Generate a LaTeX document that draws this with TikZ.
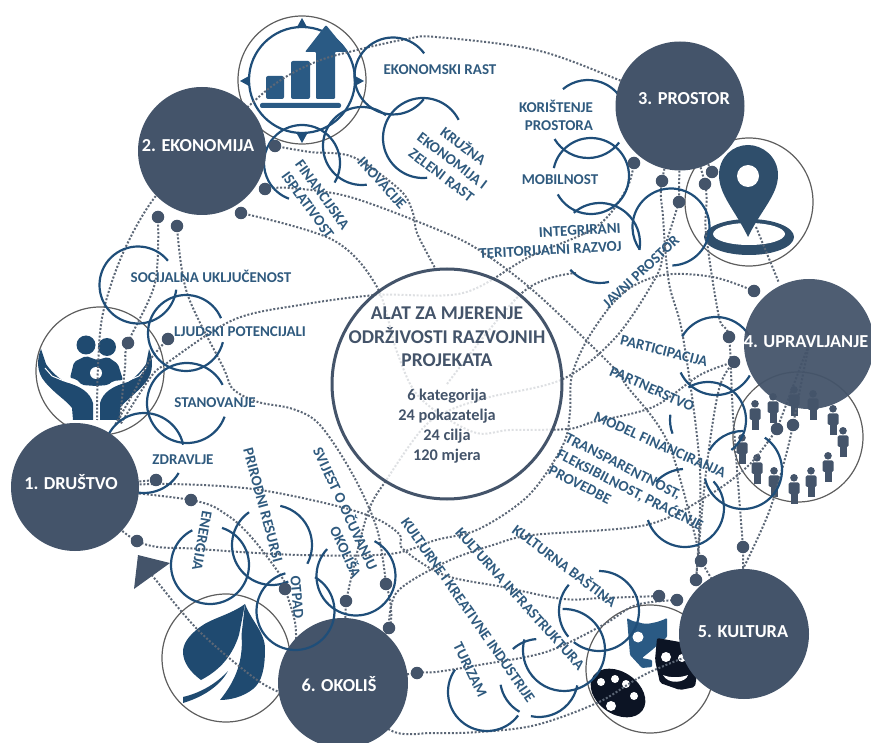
\documentclass[tikz,border=0pt]{standalone}
\usepackage{fontspec}
\setmainfont{Carlito}
\pgfdeclarelayer{icons}\pgfdeclarelayer{lines}\pgfdeclarelayer{arcs}\pgfdeclarelayer{top}
\pgfsetlayers{icons,lines,arcs,main,top}
\definecolor{hubc}{HTML}{44546A}
\definecolor{arcc}{HTML}{1F4E79}
\definecolor{labc}{HTML}{2F5A7E}
\definecolor{dotl}{HTML}{5C6776}
\definecolor{iconb}{HTML}{2A5A84}
\definecolor{icond}{HTML}{1F4A70}
\definecolor{pinc}{HTML}{2F4E6B}
\definecolor{ringc}{HTML}{5E5E5E}
\definecolor{blk}{HTML}{0C1424}
\tikzset{
 hub/.style={circle,fill=hubc,draw=none,inner sep=0pt,minimum size=#1},
 hubtext/.style={text=white,font=\fontsize{18.3}{20}\selectfont\bfseries,inner sep=0pt},
 dotn/.style={circle,fill=hubc,inner sep=0pt,minimum size=12.5pt},
 lab/.style={text=labc,font=\fontsize{15}{18}\selectfont\bfseries,inner sep=0pt},
 arcl/.style={draw=arcc,line width=2.2pt},
 ringl/.style={draw=ringc,line width=1.2pt},
 dotline/.style={draw=dotl,line width=2pt,dash pattern=on 2pt off 1.8pt},
}
\newcommand{\bluearc}[5]{\draw[arcl] (#1,#2) ++(#4:#3) arc[start angle=#4,end angle=#5,radius=#3];}
\newcommand{\conn}[1]{\draw[dotline] plot[smooth,tension=.55] coordinates {#1};}
\newcommand{\person}[2]{\fill[hubc] (#1,#2+3.8) circle (3.8);
 \fill[hubc,rounded corners=1.5pt] (#1-5.5,#2+8.5) rectangle (#1+5.5,#2+20);
 \fill[hubc] (#1-3.5,#2+15) rectangle (#1+3.5,#2+30);}
\begin{document}
\begin{tikzpicture}[x=1pt,y=1pt,yscale=-1]
\useasboundingbox (0,0) rectangle (871,743);
\clip (0,0) rectangle (871,743);

% ---------- icons ----------
\begin{pgfonlayer}{icons}
 \draw[ringl] (302,80) circle (64);
 \draw[arcc,line width=2.2pt] (302,80) circle (53);
 \fill[arcc] (302,18) -- (297,27) -- (307,27) -- cycle;
 \fill[arcc] (302,143) -- (297,134) -- (307,134) -- cycle;
 \fill[arcc] (240,81) -- (249,76) -- (249,86) -- cycle;
 \fill[arcc] (364,81) -- (355,76) -- (355,86) -- cycle;
 \fill[iconb,rounded corners=2pt] (266,76) rectangle (284,99);
 \fill[iconb,rounded corners=2pt] (291,61) rectangle (310,99);
 \fill[iconb,rounded corners=1pt] (316,99) -- (316,52) -- (305,52) -- (326,25) -- (348,52) -- (335,52) -- (335,99) -- cycle;
 \fill[iconb,rounded corners=2pt] (260,103) rectangle (341,108);

 \draw[ringl] (749,202) circle (64);
 \fill[pinc] (749,237) ellipse [x radius=45,y radius=18];
 \fill[white] (749,234) ellipse [x radius=36,y radius=11];
 \fill[pinc] (748,237) .. controls (735,210) and (719,195) .. (719,175) .. controls (719,157) and (733,145) .. (748,145) .. controls (763,145) and (778,157) .. (778,175) .. controls (778,195) and (761,210) .. (748,237) -- cycle;
 \fill[white] (748,176) circle (11);

 \draw[ringl] (798,437) circle (65);
 \person{755}{400}\person{773}{393}\person{794}{386}\person{813}{390}\person{833}{405}\person{843}{427}
 \person{828}{452}\person{811}{467}\person{794}{474}\person{774}{467}\person{757}{454}\person{742}{434}

 \draw[ringl] (650,669) circle (64);
 \fill[iconb,rounded corners=1pt] (627,618) .. controls (632,621) and (635,622) .. (638,622) .. controls (643,624) and (648,624) .. (652,623) .. controls (658,622) and (663,620) .. (667,618) -- (667,637) -- (660,643) -- (652,650) -- (642,658) -- (652,660) -- (652,667) -- (642,668) -- (630,655) -- cycle;
 \fill[white] (638,637) circle (5.5);
 \fill[blk,rounded corners=2pt] (657,638) -- (680,642) -- (700,655) -- (695,687) -- (680,690) -- (660,683) -- (655,660) -- cycle;
 \fill[white] (666,657) circle (5);
 \fill[white] (682,658) circle (4);
 \fill[white] (663,675) .. controls (670,678) and (680,678) .. (688,675) .. controls (686,683) and (668,685) .. (663,675) -- cycle;
 \fill[blk,rotate around={35:(618,693)}] (618,693) ellipse [x radius=30,y radius=21];
 \fill[white] (601,682) circle (4); \fill[white] (615,679) circle (4); \fill[white] (626,684) circle (4);
 \fill[white] (634,696) circle (4); \fill[white] (611,706) circle (5);

 \draw[ringl] (226,658) circle (64);
 \fill[icond] (245,604) .. controls (230,615) and (212,618) .. (200,627) .. controls (188,636) and (183,644) .. (183,652) .. controls (183,662) and (190,672) .. (201,680) .. controls (216,672) and (231,660) .. (239,635) -- cycle;
 \fill[icond] (245,604) .. controls (252,622) and (265,632) .. (265,649) .. controls (265,668) and (262,682) .. (253,689) .. controls (243,697) and (230,700) .. (220,700) .. controls (232,685) and (244,665) .. (241.5,635) -- cycle;
 \fill[icond] (183,697) .. controls (200,693) and (216,684) .. (228,671) .. controls (220,686) and (203,697) .. (183,703) -- cycle;

 \draw[ringl] (100,371) circle (64);
 \fill[icond] (86,345) circle (9.5);
 \fill[icond] (107,347) circle (9);
 \fill[icond,rounded corners=2pt] (70,378) -- (74,362) -- (86,356) -- (97,360) -- (108,357) -- (118,364) -- (123,380) -- (113,381) -- (108,385) -- (96,386) -- (82,385) -- (76,379) -- cycle;
 \fill[white] (96,373) circle (6);
 \fill[icond] (41,349) .. controls (37,358) and (36,372) .. (45,382) .. controls (55,394) and (66,400) .. (72,408) -- (73,420) -- (93,420) -- (93,403) .. controls (90,392) and (80,386) .. (65,382) .. controls (58,378) and (50,370) .. (46,364) -- cycle;
 \fill[icond] (149,349) .. controls (153,358) and (154,372) .. (146,382) .. controls (136,394) and (126,400) .. (120,408) -- (120,420) -- (100,420) -- (100,403) .. controls (103,392) and (113,386) .. (128,382) .. controls (135,378) and (142,370) .. (146,364) -- cycle;
 \draw[white,line width=1pt] (45,368) -- (52,376) -- (64,381);
 \draw[white,line width=1pt] (146,368) -- (139,376) -- (127,381);
\end{pgfonlayer}

% ---------- hubs ----------
\node[circle,draw=hubc,line width=3pt,fill=white,fill opacity=.8,draw opacity=1,inner sep=0pt,minimum size=230pt] (main) at (447,384) {};
\node[hub=128pt] (h1) at (75,487) {};
\node[hub=128pt] (h2) at (202,151) {};
\node[hub=129pt] (h3) at (680,106) {};
\node[hub=130pt,fill opacity=.95] (h4) at (809,344) {};
\node[hub=130pt] (h5) at (744,634) {};
\node[hub=130pt] (h6) at (343,683) {};
\node[hubtext] (t1) at (71,482) {1. DRUŠTVO};
\node[hubtext] (t2) at (198,146) {2. EKONOMIJA};
\node[hubtext] (t3) at (684,99) {3. PROSTOR};
\node[hubtext] (t4) at (806,342) {4. UPRAVLJANJE};
\node[hubtext] (t5) at (743,632) {5. KULTURA};
\node[hubtext] (t6) at (339,684) {6. OKOLIŠ};

% ---------- dots ----------
\foreach \n/\x/\y in {d1/275/146,d2/265/189,d3/241/213,d4/158/217,d5/177/226,d6/128/343,d7/168/339,
 d8/634/163,d9/662/181,d10/679/202,d11/705/184,d12/712/172,d13/754/291,d14/729/337,d15/734/362,
 d16/777/429,d17/793/425,d18/701/561,d19/696/580,d20/743/547,d21/659/596,d22/677/600,
 d23/156/480,d24/191/500,d25/137/541,d26/285/589,d27/346/601,d28/386/584,d29/389/628,d30/417/673}
 {\node[dotn] (\n) at (\x,\y) {};}
\fill[hubc] (138,555) -- (170,563) -- (134,589) -- cycle;
\coordinate (tri) at (150,572);
\coordinate (pintip) at (756,227);
\coordinate (arcend) at (576,273);

% ---------- connectors ----------
\begin{pgfonlayer}{lines}
 \conn{(h3) (619,80) (536,50) (436,37) (407,39) (357,50) (313,63) (267,90) (h2)}
 \conn{(d1) (310,152) (353,157) (400,190) (413,213) (417,233) (435,268)}
 \conn{(d2) (290,188) (350,197) (436,229) (479,250) (536,293) (616,370) (626,385) (669,445) (d18)}
 \conn{(d3) (333,240) (377,287) (397,352) (420,398) (473,432) (510,430) (568,429) (593,422) (653,407) (700,375) (d15)}
 \conn{(h2) (155,197) (123,253) (103,313) (98,367) (97,420)}
 \conn{(d4) (155,283) (d6) (125,367) (120,420)}
 \conn{(d5) (187,293) (223,367) (233,389) (258,402) (293,409) (320,425) (353,475) (377,529) (d28)}
 \conn{(d8) (626,190) (596,227) (529,257) (463,293) (377,295) (300,305) (233,320) (167,363) (150,378) (120,425)}
 \conn{(d7) (150,360) (135,390) (115,425)}
 \conn{(h1) (d23)}
 \conn{(h1) (167,484) (253,489) (333,505) (377,519) (400,535) (403,549) (444,575) (503,587) (563,599) (603,598) (d21)}
 \conn{(h1) (d24) (227,515) (253,539) (283,579) (d26)}
 \conn{(d26) (295,622) (296,650)}
 \conn{(h1) (d25) (200,549) (300,555) (390,554) (436,540) (479,529) (529,495) (563,445) (570,412) (572,375) (590,335) (623,293) (663,275) (713,277) (d13)}
 \conn{(d27) (367,515) (387,479) (423,428) (450,410) (490,397) (563,379) (616,337) (656,277) (664,250) (d10)}
 \conn{(h3) (d10)}
 \conn{(d27) (345,625)}
 \conn{(d28) (d29) (h6)}
 \conn{(tri) (155,579) (200,632) (260,682) (300,700)}
 \conn{(h6) (d30) (436,672) (479,665) (546,652) (603,625) (636,605) (d22)}
 \conn{(h6) (390,730) (433,733) (479,732) (536,725) (599,702) (650,672) (h5)}
 \conn{(d29) (397,592) (446,562) (493,545) (533,535) (646,525) (709,495) (749,465) (d16)}
 \conn{(d16) (h4)}
 \conn{(d17) (786,455) (769,512) (743,569)}
 \conn{(d17) (h4)}
 \conn{(h3) (d9) (663,217) (669,283) (683,337) (700,470) (d19)}
 \conn{(h3) (d11) (706,233) (719,317) (d14) (733,415) (d20)}
 \conn{(d20) (h5)}
 \conn{(h3) (d12)}
 \conn{(pintip) (779,283)}
 \conn{(d15) (719,389) (706,472) (d19)}
 \conn{(d18) (h5)}
 \conn{(main) (523,292) (arcend)}
\end{pgfonlayer}

% ---------- arcs ----------
\begin{pgfonlayer}{arcs}
 \bluearc{393}{76}{38.5}{-36}{-323}
 \bluearc{362}{146}{39}{-52}{-277}
 \bluearc{423}{138}{40}{-27}{-276}
 \bluearc{302}{163}{38}{31}{-250}
 \bluearc{138}{285}{38.5}{-39}{-353}
 \bluearc{186}{333}{38}{-23}{-346}
 \bluearc{187}{403}{40}{-27}{-340}
 \bluearc{144}{453}{40}{-12}{-330}
 \bluearc{210}{565}{39}{-117}{-432}
 \bluearc{272}{545}{40}{-125}{-294}
 \bluearc{272}{545}{40}{-78}{28}
 \bluearc{356}{576}{39.5}{-137}{-422}
 \bluearc{487}{692}{39}{-145}{-323}
 \bluearc{564}{650}{41}{-92}{195}
 \bluearc{539}{678}{39}{-132}{-94}
 \bluearc{539}{678}{39}{170}{120}
 \bluearc{539}{678}{39}{102}{11}
 \bluearc{599}{611}{40}{-90}{129}
 \bluearc{599}{611}{40}{221}{140}
 \bluearc{685}{508}{39}{-93}{-138}
 \bluearc{685}{508}{39}{162}{-43}
 \bluearc{743}{470}{39}{-56}{167}
 \bluearc{743}{470}{39}{-150}{-90}
 \bluearc{708}{420}{38}{-121}{52}
 \bluearc{708}{420}{38}{188}{159}
 \bluearc{716}{356}{39}{-150}{-30}
 \bluearc{716}{356}{39}{155}{30}
 \bluearc{671}{227}{38.5}{88}{-216}
 \bluearc{600}{243}{40}{-131}{10}
 \bluearc{600}{243}{40}{138}{77}
 \bluearc{591}{176}{38}{-168}{151}
 \bluearc{588}{119}{39}{-130}{-30}
 \bluearc{588}{119}{39}{149}{37}
\end{pgfonlayer}

\begin{pgfonlayer}{top}
 \bluearc{295.5}{611}{39}{-105}{-420}
 % ---------- main text ----------
 \node[text=hubc,font=\fontsize{19.5}{23.5}\selectfont\bfseries,align=center,inner sep=0pt] (title) at (447,337) {ALAT ZA MJERENJE\\ODRŽIVOSTI RAZVOJNIH\\PROJEKATA};
 \node[text=hubc,font=\fontsize{16.3}{20}\selectfont\bfseries,align=center,inner sep=0pt] (stats) at (447,426) {6 kategorija\\24 pokazatelja\\24 cilja\\120 mjera};
 % ---------- labels ----------
 \node[lab] (l1) at (440,70) {EKONOMSKI RAST};
 \node[lab,rotate=-37,align=center] (l2) at (453,160) {KRUŽNA\\EKONOMIJA I\\ZELENI RAST};
 \node[lab,rotate=-48] (l3) at (382,183) {INOVACIJE};
 \node[lab,rotate=-54,align=center] (l4) at (315,200) {FINANCIJSKA\\ISPLATIVOST};
 \node[lab] (l5) at (211,276) {SOCIJALNA UKLJUČENOST};
 \node[lab] (l6) at (240,332) {LJUDSKI POTENCIJALI};
 \node[lab] (l7) at (215,403) {STANOVANJE};
 \node[lab] (l8) at (183,460) {ZDRAVLJE};
 \node[lab,rotate=-100] (l9) at (202,541) {ENERGIJA};
 \node[lab,rotate=-75] (l10) at (263,505) {PRIRODNI RESURSI};
 \node[lab,rotate=-65,align=right] (l11) at (338,512) {SVIJEST O OČUVANJU\\OKOLIŠA};
 \node[lab,rotate=-85] (l12) at (297,597) {OTPAD};
 \node[lab,rotate=-55] (l13) at (468,610) {KULTURNE I KREATIVNE INDUSTRIJE};
 \node[lab,rotate=-48] (l14) at (520,599) {KULTURNA INFRASTRUKTURA};
 \node[lab,rotate=-37] (l15) at (565,565) {KULTURNA BAŠTINA};
 \node[lab,rotate=-64] (l16) at (470,670) {TURIZAM};
 \node[lab,rotate=-14] (l17) at (664,351) {PARTICIPACIJA};
 \node[lab,rotate=-24] (l18) at (652,389) {PARTNERSTVO};
 \node[lab,rotate=-24] (l19) at (660,445) {MODEL FINANCIRANJA};
 \node[lab,rotate=-27,align=left] (l20) at (630,490) {TRANSPARENTNOST,\\FLEKSIBILNOST, PRAĆENJE\\PROVEDBE};
 \node[lab,rotate=3,align=right] (l21) at (550,241) {INTEGRIRANI\\TERITORIJALNI RAZVOJ};
 \node[lab,rotate=43] (l22) at (641,272) {JAVNI PROSTOR};
 \node[lab,align=right] (l23) at (556,115) {KORIŠTENJE\\PROSTORA};
 \node[lab] (l24) at (560,180) {MOBILNOST};
\end{pgfonlayer}
\end{tikzpicture}
\end{document}
